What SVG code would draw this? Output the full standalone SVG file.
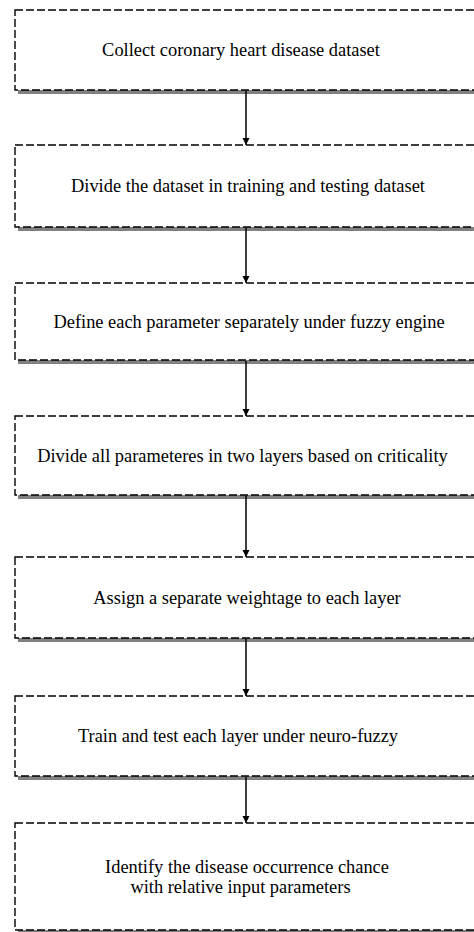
<svg xmlns="http://www.w3.org/2000/svg" width="474" height="932" viewBox="0 0 474 932">
<style>
.sh{fill:#808080;stroke:none}
.bx{fill:#fff;stroke:#000;stroke-width:1.4;stroke-dasharray:8 3}
.t{font-family:"Liberation Serif","Times New Roman",serif;font-size:18.4px;fill:#000;text-anchor:middle}
.c{stroke:#000;stroke-width:1.5;fill:none}
</style>
<defs>
<marker id="ah" markerWidth="8" markerHeight="8" refX="7" refY="4" orient="auto" markerUnits="userSpaceOnUse">
<path d="M0,0.5 L7,4 L0,7.5 Z" fill="#000"/>
</marker>
</defs>
<rect width="474" height="932" fill="#fff"/>
<g id="n1"><rect class="sh" x="18" y="14" width="462" height="80"/><rect class="bx" x="15" y="10" width="462" height="80"/><text class="t" x="241" y="56">Collect coronary heart disease dataset</text></g>
<g id="n2"><rect class="sh" x="18" y="149" width="462" height="82"/><rect class="bx" x="15" y="145" width="462" height="82"/><text class="t" x="248" y="192">Divide the dataset in training and testing dataset</text></g>
<g id="n3"><rect class="sh" x="18" y="287" width="462" height="77"/><rect class="bx" x="15" y="283" width="462" height="77"/><text class="t" x="249" y="327.5">Define each parameter separately under fuzzy engine</text></g>
<g id="n4"><rect class="sh" x="18" y="420" width="462" height="79"/><rect class="bx" x="15" y="416" width="462" height="79"/><text class="t" x="242.5" y="461.5">Divide all parameteres in two layers based on criticality</text></g>
<g id="n5"><rect class="sh" x="18" y="561" width="462" height="81"/><rect class="bx" x="15" y="557" width="462" height="81"/><text class="t" x="247" y="603.5">Assign a separate weightage to each layer</text></g>
<g id="n6"><rect class="sh" x="18" y="700" width="462" height="80"/><rect class="bx" x="15" y="696" width="462" height="80"/><text class="t" x="238" y="742">Train and test each layer under neuro-fuzzy</text></g>
<g id="n7"><rect class="sh" x="18" y="827" width="462" height="107"/><rect class="bx" x="15" y="823" width="462" height="107"/><text class="t" x="247" y="872.5">Identify the disease occurrence chance</text><text class="t" x="240.5" y="892.5">with relative input parameters</text></g>
<g id="connectors">
<line class="c" x1="246" y1="91" x2="246" y2="145" marker-end="url(#ah)"/>
<line class="c" x1="246" y1="228" x2="246" y2="283" marker-end="url(#ah)"/>
<line class="c" x1="246" y1="361" x2="246" y2="416" marker-end="url(#ah)"/>
<line class="c" x1="246" y1="496" x2="246" y2="557" marker-end="url(#ah)"/>
<line class="c" x1="246" y1="639" x2="246" y2="696" marker-end="url(#ah)"/>
<line class="c" x1="246" y1="777" x2="246" y2="823" marker-end="url(#ah)"/>
</g>
</svg>
